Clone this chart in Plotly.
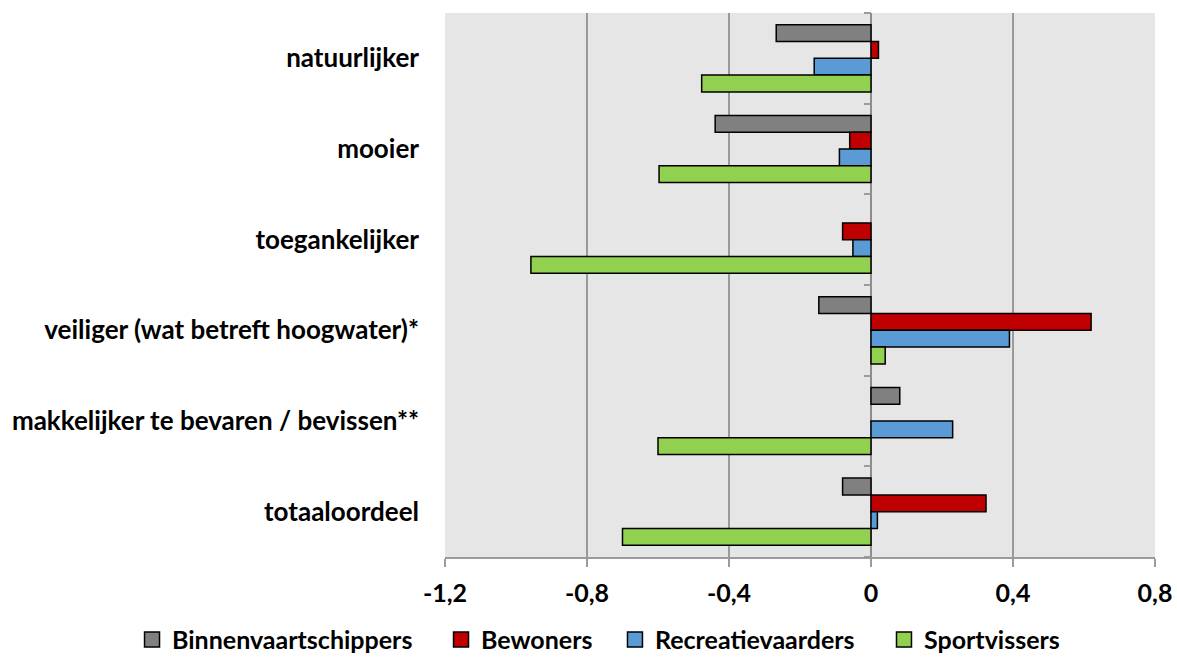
import plotly.graph_objects as go

categories = ["natuurlijker", "mooier", "toegankelijker",
              "veiliger (wat betreft hoogwater)*",
              "makkelijker te bevaren / bevissen**", "totaaloordeel"]
series_names = ["Binnenvaartschippers", "Bewoners", "Recreatievaarders", "Sportvissers"]
binnenvaart = [-0.267, -0.439, None, -0.147, 0.081, -0.08]
bewoners = [0.021, -0.06, -0.08, 0.62, None, 0.324]
recreatie = [-0.16, -0.089, -0.051, 0.39, 0.23, 0.018]
sportvissers = [-0.477, -0.597, -0.958, 0.04, -0.6, -0.70]
colors = ["#808080", "#C00000", "#5B9BD5", "#92D050"]
tick_vals = [-1.2, -0.8, -0.4, 0, 0.4, 0.8]
tick_text = ["-1,2", "-0,8", "-0,4", "0", "0,4", "0,8"]
legend_x = [-0.4408, -0.0056, 0.2394, 0.6183]

FONT = "Lato"
FS = 25
fig = go.Figure()
legend_ids = ["legend", "legend2", "legend3", "legend4"]
for name, vals, col, lid in zip(series_names,
                                [binnenvaart, bewoners, recreatie, sportvissers],
                                colors, legend_ids):
    fig.add_trace(go.Bar(
        y=categories, x=vals, name=name, orientation="h", showlegend=False,
        marker=dict(color=col, line=dict(color="#000000", width=1.5)),
    ))
    # legend swatch (square with black outline, like the original)
    fig.add_trace(go.Scatter(
        x=[None], y=[None], name=name, mode="markers", legend=lid,
        marker=dict(symbol="square", size=15, color=col,
                    line=dict(color="#000000", width=1.5)),
        hoverinfo="skip",
    ))

n = len(categories)
# invisible helper trace so the category-boundary tick axis at x=0 is drawn
fig.add_trace(go.Scatter(x=[None], y=[None], yaxis="y2", showlegend=False,
                         hoverinfo="skip", mode="markers"))

legend_common = dict(orientation="h", xanchor="left", y=-0.152, yanchor="middle",
                     font=dict(family=FONT, size=FS, weight="bold"),
                     bgcolor="rgba(0,0,0,0)")
layout_legends = {}
for lid, lx in zip(legend_ids, legend_x):
    layout_legends[lid] = dict(x=lx, **legend_common)

fig.update_layout(
    width=1177, height=657,
    margin=dict(l=445, r=22, t=13, b=100, autoexpand=False),
    barmode="group", bargap=0.26, bargroupgap=0,
    plot_bgcolor="#E6E6E6", paper_bgcolor="#FFFFFF",
    separators=",.",
    font=dict(family=FONT, size=FS, color="#000000"),
    xaxis=dict(
        range=[-1.2, 0.8], tickvals=tick_vals, ticktext=tick_text,
        tickfont=dict(family=FONT, size=FS, weight="bold"),
        showgrid=True, gridcolor="#9A9A9A", gridwidth=2,
        zeroline=True, zerolinecolor="#8C8C8C", zerolinewidth=2,
        showline=True, linecolor="#9A9A9A", linewidth=2,
        ticks="outside", ticklen=8, tickcolor="#9A9A9A", tickwidth=2,
        ticklabelstandoff=5,
        fixedrange=True, automargin=False,
    ),
    yaxis=dict(
        autorange=False, range=[n - 0.5, -0.5], type="category",
        tickfont=dict(family=FONT, size=26, weight="bold"),
        showgrid=False, zeroline=False, showline=False, ticks="",
        ticklabelstandoff=25, automargin=False,
    ),
    yaxis2=dict(
        overlaying="y", anchor="free", position=0.6, side="left",
        range=[n - 0.5, -0.5], tickvals=[i - 0.5 for i in range(n + 1)],
        showticklabels=False, ticks="outside", ticklen=7, tickcolor="#9A9A9A",
        tickwidth=2, showgrid=False, zeroline=False, showline=False,
    ),
    **layout_legends,
)
fig.write_html("out.html", config={"displayModeBar": False},
               post_script="document.body.style.margin='0';")
